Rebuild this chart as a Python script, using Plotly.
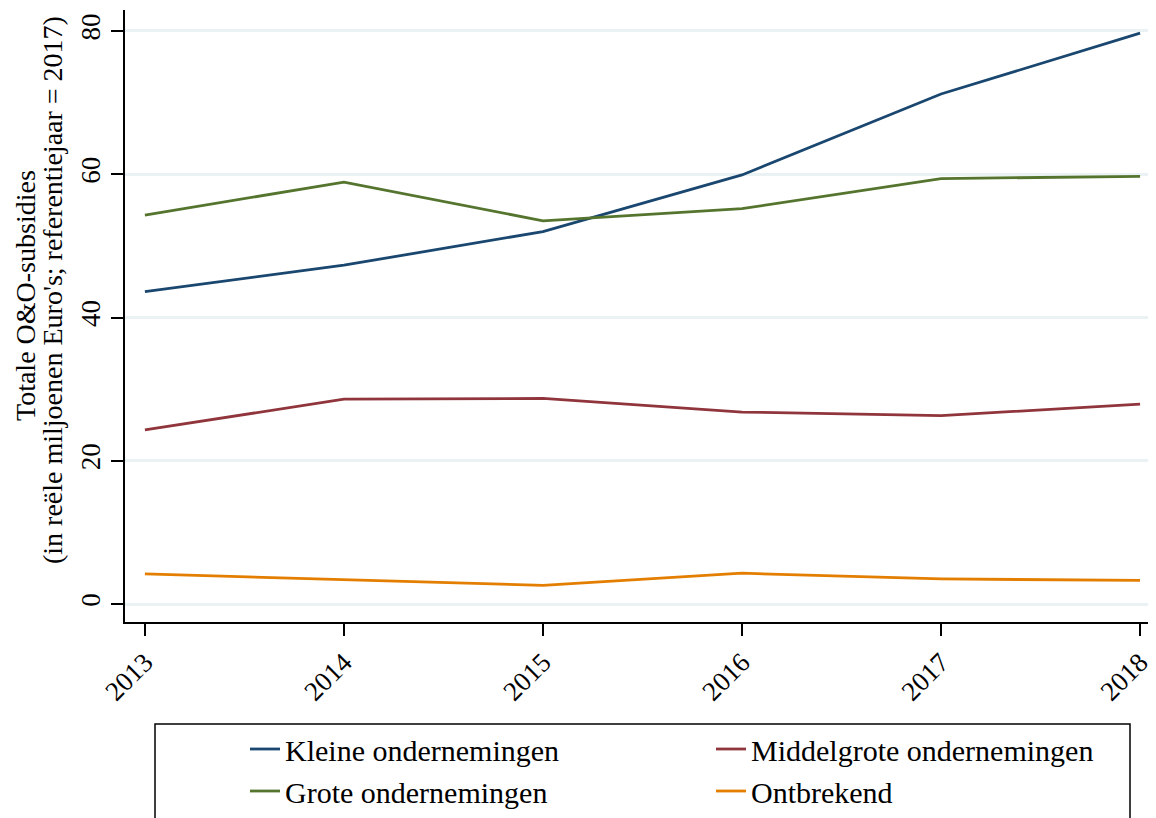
import plotly.graph_objects as go

years = [2013, 2014, 2015, 2016, 2017, 2018]
kleine = [43.6, 47.3, 52.0, 59.9, 71.2, 79.7]
middelgrote = [24.3, 28.6, 28.7, 26.8, 26.3, 27.9]
grote = [54.3, 58.9, 53.5, 55.2, 59.4, 59.7]
ontbrekend = [4.2, 3.4, 2.6, 4.3, 3.5, 3.3]

series = [
    ("Kleine ondernemingen", kleine, "#1a476f"),
    ("Middelgrote ondernemingen", middelgrote, "#90353b"),
    ("Grote ondernemingen", grote, "#55752f"),
    ("Ontbrekend", ontbrekend, "#e37e00"),
]

FONT = "Liberation Serif, Times New Roman, serif"

fig = go.Figure()
for name, vals, color in series:
    fig.add_trace(go.Scatter(
        x=years, y=vals, mode="lines", name=name,
        line=dict(color=color, width=2.8)
    ))

# page has an 8px body margin, so the figure is 8px smaller than the window
OFF = 8
W, H = 1156 - OFF, 818 - OFF
ml, mr, mt, mb = 117, 0, 2, 196
pw, ph = W - ml - mr, H - mt - mb

# helpers: page pixel position -> paper coords
def px_x(x):
    return (x - OFF - ml) / pw

def px_y(y):
    return (H - mb - (y - OFF)) / ph

# legend frame
fig.add_shape(type="rect", xref="paper", yref="paper",
              x0=px_x(155), x1=px_x(1130), y0=px_y(840), y1=px_y(724),
              line=dict(color="black", width=1.5), fillcolor="rgba(0,0,0,0)")

# y axis title, two lines set a bit tighter than a <br> would
title_lines = [
    ("Totale O&O-subsidies", 25, 296),
    ("(in reële miljoenen Euro's; referentiejaar = 2017)", 52, 290),
]
for txt, xp, yp in title_lines:
    fig.add_annotation(
        text=txt, xref="paper", yref="paper", x=px_x(xp), y=px_y(yp),
        xanchor="center", yanchor="middle", textangle=-90, showarrow=False,
        font=dict(family=FONT, size=28, color="black"),
    )

fig.update_layout(
    width=W, height=H,
    margin=dict(l=ml, r=mr, t=mt, b=mb, autoexpand=False),
    paper_bgcolor="white", plot_bgcolor="white",
    font=dict(family=FONT, size=28, color="black"),
    showlegend=True,
    legend=dict(
        orientation="h", x=px_x(245), y=px_y(723), xanchor="left", yanchor="top",
        entrywidth=421, entrywidthmode="pixels",
        font=dict(family=FONT, size=30), tracegroupgap=0,
        bgcolor="rgba(0,0,0,0)", borderwidth=0,
    ),
    xaxis=dict(
        range=[2012.9, 2018.08], tickvals=years, ticktext=[str(y) for y in years],
        tickangle=-45, ticks="outside", ticklen=12, tickwidth=1.5, tickcolor="black",
        showline=True, linecolor="black", linewidth=1.5,
        showgrid=False, zeroline=False, automargin=False,
        tickfont=dict(family=FONT, size=27),
    ),
    yaxis=dict(
        range=[-2.51, 82.93], tickvals=[0, 20, 40, 60, 80],
        tickangle=-90, ticks="outside", ticklen=12, tickwidth=1.5, tickcolor="black",
        showline=True, linecolor="black", linewidth=1.5,
        showgrid=True, gridcolor="#eaf2f3", gridwidth=3, zeroline=False,
        automargin=False,
        tickfont=dict(family=FONT, size=27),
    ),
)

fig.write_html("out.html")
